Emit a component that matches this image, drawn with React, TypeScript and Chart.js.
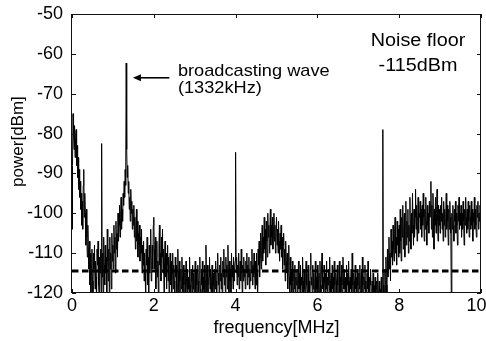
import React, { useEffect, useRef } from 'react';
import { Chart, registerables } from 'chart.js';

Chart.register(...registerables);

// ---- data -------------------------------------------------------------
const FREQ_STEP_MHZ = 0.0125; // spectrum analyser sample spacing

// power [dBm], one value per FREQ_STEP_MHZ from 0 to 10 MHz (801 samples, 40 per 0.5 MHz)
const POWER_DBM: number[] = [
  // 0.0 - 0.5
  -104, -88, -75, -80, -84, -78, -86, -81, -79, -88,
  -83, -91, -86, -94, -89, -96, -92, -99, -95, -103,
  -97, -104, -93, -89, -101, -95, -100, -108, -99, -106,
  -111, -103, -109, -114, -107, -118, -110, -121, -113, -109,
  // 0.5 - 1.0
  -117, -121, -110, -114, -108, -119, -112, -116, -122, -109,
  -113, -107, -118, -121, -111, -115, -109, -120, -82.5, -116,
  -110, -121, -106, -113, -118, -108, -115, -111, -121, -104,
  -112, -117, -109, -121, -106, -114, -110, -119, -105, -112,
  // 1.0 - 1.5
  -108, -114, -103, -110, -106, -115, -102, -109, -105, -111,
  -100, -107, -103, -98, -106, -101, -96, -104, -99, -102,
  -95, -98, -92, -96, -89, -93, -62.3, -84, -91, -88,
  -95, -92, -99, -96, -102, -94, -100, -97, -104, -99,
  // 1.5 - 2.0
  -103, -98, -106, -101, -109, -104, -99, -107, -102, -111,
  -105, -108, -103, -112, -106, -110, -104, -115, -108, -113,
  -107, -117, -110, -114, -121, -109, -113, -106, -118, -111,
  -121, -108, -115, -110, -104, -117, -112, -108, -114, -103,
  // 2.0 - 2.5
  -101, -109, -114, -106, -119, -111, -107, -116, -112, -121,
  -108, -103, -113, -110, -117, -106, -111, -104, -115, -109,
  -121, -112, -107, -116, -110, -119, -113, -108, -117, -111,
  -121, -114, -110, -118, -112, -122, -115, -110, -119, -113,
  // 2.5 - 3.0
  -117, -121, -111, -116, -113, -122, -118, -109, -115, -121,
  -112, -117, -122, -114, -119, -111, -116, -121, -113, -118,
  -122, -115, -120, -112, -117, -122, -114, -119, -116, -121,
  -111, -118, -122, -114, -117, -121, -113, -119, -115, -122,
  // 3.0 - 3.5
  -116, -112, -120, -114, -118, -122, -113, -117, -121, -115,
  -111, -119, -122, -114, -118, -112, -121, -116, -119, -113,
  -122, -117, -108, -115, -120, -113, -118, -122, -116, -111,
  -119, -114, -121, -117, -113, -120, -115, -118, -122, -114,
  // 3.5 - 4.0
  -119, -112, -117, -121, -114, -110, -118, -115, -121, -113,
  -117, -111, -119, -115, -122, -112, -116, -109, -118, -114,
  -120, -111, -116, -113, -119, -108, -115, -121, -112, -117,
  -114, -120, -110, -116, -113, -119, -111, -117, -114, -112,
  // 4.0 - 4.5
  -84.7, -115, -111, -118, -113, -116, -110, -119, -114, -112,
  -117, -109, -115, -120, -113, -117, -111, -116, -114, -119,
  -112, -115, -110, -118, -113, -116, -111, -119, -114, -117,
  -112, -115, -109, -118, -113, -116, -110, -114, -119, -112,
  // 4.5 - 5.0
  -118, -110, -115, -121, -109, -113, -107, -116, -111, -105,
  -114, -108, -103, -112, -106, -110, -101, -109, -104, -113,
  -102, -107, -111, -100, -106, -103, -110, -104, -99, -108,
  -103, -106, -101, -109, -104, -100, -107, -103, -110, -105,
  // 5.0 - 5.5
  -101, -108, -104, -110, -102, -107, -112, -105, -109, -103,
  -111, -106, -114, -108, -105, -113, -109, -117, -107, -112,
  -115, -110, -119, -113, -108, -116, -121, -111, -118, -114,
  -122, -112, -117, -120, -114, -119, -113, -121, -116, -118,
  // 5.5 - 6.0
  -114, -121, -117, -112, -119, -115, -122, -113, -118, -116,
  -121, -111, -117, -120, -114, -119, -122, -115, -112, -118,
  -121, -116, -113, -120, -117, -122, -114, -110, -118, -116,
  -121, -113, -119, -115, -122, -117, -112, -120, -116, -119,
  // 6.0 - 6.5
  -113, -121, -117, -115, -122, -112, -118, -120, -114, -110,
  -119, -116, -122, -113, -117, -121, -115, -119, -112, -122,
  -116, -118, -114, -121, -111, -117, -120, -115, -122, -113,
  -119, -116, -121, -112, -118, -122, -115, -117, -120, -113,
  // 6.5 - 7.0
  -118, -122, -115, -112, -120, -116, -121, -113, -118, -122,
  -111, -117, -119, -114, -121, -116, -122, -113, -118, -115,
  -120, -112, -117, -122, -116, -119, -114, -121, -110, -118,
  -122, -115, -117, -121, -113, -119, -116, -122, -114, -118,
  // 7.0 - 7.5
  -121, -115, -119, -113, -122, -117, -114, -120, -111, -118,
  -122, -116, -119, -113, -121, -117, -123, -115, -119, -112,
  -120, -122, -116, -118, -114, -121, -123, -117, -120, -115,
  -122, -118, -121, -116, -123, -119, -117, -122, -115, -120,
  // 7.5 - 8.0
  -122, -117, -123, -119, -121, -116, -123, -120, -79, -122,
  -118, -123, -114, -120, -111, -118, -121, -109, -116, -112,
  -106, -114, -110, -117, -104, -111, -107, -113, -103, -109,
  -112, -105, -101, -110, -106, -113, -102, -108, -104, -111,
  // 8.0 - 8.5
  -103, -110, -99, -107, -112, -101, -106, -98, -109, -104,
  -100, -111, -105, -97, -108, -102, -106, -99, -110, -103,
  -107, -96, -104, -109, -100, -105, -95, -103, -108, -99,
  -106, -101, -94, -104, -98, -107, -102, -96, -105, -100,
  // 8.5 - 9.0
  -101, -97, -104, -99, -106, -98, -103, -95, -101, -107,
  -99, -104, -96, -102, -108, -98, -103, -100, -105, -97,
  -101, -99, -92, -104, -98, -106, -95, -101, -109, -99,
  -103, -96, -105, -100, -94, -102, -107, -98, -103, -99,
  // 9.0 - 9.5
  -105, -98, -102, -96, -104, -100, -107, -97, -103, -99,
  -106, -101, -95, -104, -98, -102, -108, -99, -104, -97,
  -101, -105, -123, -100, -104, -98, -103, -107, -99, -102,
  -97, -105, -100, -103, -108, -98, -102, -96, -104, -100,
  // 9.5 - 10.0
  -103, -98, -106, -100, -104, -97, -102, -108, -99, -103,
  -96, -101, -105, -99, -104, -97, -102, -106, -98, -101,
  -104, -97, -103, -99, -107, -100, -102, -96, -104, -99,
  -103, -106, -98, -101, -97, -104, -100, -102, -98, -103,
  // 10.0
  -101,
];

const NOISE_FLOOR_DBM = -114.5;
const X_RANGE = [0, 10];
const Y_RANGE = [-120, -50];
const X_TICKS = [0, 2, 4, 6, 8, 10];
const Y_TICKS = [-120, -110, -100, -90, -80, -70, -60, -50];
const X_TITLE = 'frequency[MHz]';
const Y_TITLE = 'power[dBm]';
const BROADCAST_LABEL = ['broadcasting wave', '(1332kHz)'];
const NOISE_LABEL = ['Noise floor', '-115dBm'];

// ---- styling / layout -------------------------------------------------
const FONT_FAMILY = '"Liberation Sans", Arial, Helvetica, sans-serif';
const W = 486;
const H = 341;

const framePlugin = {
  id: 'frameAndNotes',
  afterDatasetsDraw(chart: any) {
    const { ctx, chartArea: a, scales } = chart;
    const x = scales.x;
    const y = scales.y;
    ctx.save();

    // box
    ctx.strokeStyle = '#111';
    ctx.lineWidth = 1;
    ctx.strokeRect(Math.round(a.left) - 0.5, Math.round(a.top) + 0.5, Math.round(a.right - a.left), Math.round(a.bottom - a.top) - 1);

    // inward ticks on all four sides
    const TL = 4;
    ctx.beginPath();
    X_TICKS.forEach((v) => {
      const px = Math.round(x.getPixelForValue(v)) + 0.5;
      ctx.moveTo(px, a.top);
      ctx.lineTo(px, a.top + TL);
      ctx.moveTo(px, a.bottom);
      ctx.lineTo(px, a.bottom - TL);
    });
    Y_TICKS.forEach((v) => {
      const py = Math.round(y.getPixelForValue(v)) + 0.5;
      ctx.moveTo(a.left, py);
      ctx.lineTo(a.left + TL, py);
      ctx.moveTo(a.right, py);
      ctx.lineTo(a.right - TL, py);
    });
    ctx.stroke();

    ctx.fillStyle = '#000';
    ctx.textBaseline = 'alphabetic';

    const drawStretched = (text: string, px: number, py: number, sx: number, align: string) => {
      ctx.save();
      ctx.translate(px, py);
      ctx.scale(sx, 1);
      ctx.textAlign = align;
      ctx.fillText(text, 0, 0);
      ctx.restore();
    };

    // broadcasting wave annotation
    ctx.font = `17px ${FONT_FAMILY}`;
    const bx = x.getPixelForValue(2.59);
    drawStretched(BROADCAST_LABEL[0], bx, y.getPixelForValue(-65.5), 1.07, 'left');
    drawStretched(BROADCAST_LABEL[1], bx, y.getPixelForValue(-69.8), 1.07, 'left');

    // arrow pointing to the 1332 kHz carrier
    const ay = y.getPixelForValue(-66.0);
    const ax0 = x.getPixelForValue(2.38);
    const ax1 = x.getPixelForValue(1.49);
    ctx.strokeStyle = '#000';
    ctx.lineWidth = 1.6;
    ctx.beginPath();
    ctx.moveTo(ax0, ay);
    ctx.lineTo(ax1 + 6, ay);
    ctx.stroke();
    ctx.beginPath();
    ctx.moveTo(ax1, ay);
    ctx.lineTo(ax1 + 8, ay - 3.5);
    ctx.lineTo(ax1 + 8, ay + 3.5);
    ctx.closePath();
    ctx.fill();

    // noise floor annotation
    ctx.font = `18px ${FONT_FAMILY}`;
    const nx = x.getPixelForValue(8.46);
    drawStretched(NOISE_LABEL[0], nx, y.getPixelForValue(-58.1), 1.1, 'center');
    drawStretched(NOISE_LABEL[1], nx, y.getPixelForValue(-64.4), 1.1, 'center');

    // y axis title
    ctx.font = `17px ${FONT_FAMILY}`;
    ctx.save();
    ctx.translate(18.5, y.getPixelForValue(-82));
    ctx.rotate(-Math.PI / 2);
    ctx.textAlign = 'center';
    ctx.textBaseline = 'middle';
    ctx.fillText(Y_TITLE, 0, 0);
    ctx.restore();

    ctx.restore();
  },
};

export default function App() {
  const canvasRef = useRef<HTMLCanvasElement | null>(null);

  useEffect(() => {
    const canvas = canvasRef.current;
    if (!canvas) return;

    const spectrum = POWER_DBM.map((p, i) => ({ x: i * FREQ_STEP_MHZ, y: p }));
    const floor = X_RANGE.map((f) => ({ x: f, y: NOISE_FLOOR_DBM }));

    const chart = new Chart(canvas, {
      type: 'line',
      data: {
        datasets: [
          {
            label: 'noise floor',
            data: floor,
            borderColor: '#000',
            borderWidth: 3,
            borderDash: [6.5, 3.5],
            pointRadius: 0,
            fill: false,
          },
          {
            label: 'spectrum',
            data: spectrum,
            borderColor: '#000',
            borderWidth: 1,
            pointRadius: 0,
            tension: 0,
            fill: false,
          },
        ],
      },
      options: {
        responsive: false,
        animation: false,
        devicePixelRatio: 1,
        layout: { padding: { top: 14, right: 5, left: 0, bottom: 0 } },
        plugins: {
          legend: { display: false },
          tooltip: { enabled: false },
        },
        scales: {
          x: {
            type: 'linear',
            min: X_RANGE[0],
            max: X_RANGE[1],
            grid: { display: false, drawTicks: false },
            border: { display: false },
            afterBuildTicks: (scale: any) => {
              scale.ticks = X_TICKS.map((v) => ({ value: v }));
            },
            afterFit: (scale: any) => {
              scale.height = 48;
              scale.paddingLeft = 0;
              scale.paddingRight = 0;
            },
            ticks: {
              color: '#000',
              font: { family: FONT_FAMILY, size: 18 },
              padding: 2,
              maxRotation: 0,
              autoSkip: false,
              callback: (v: any) => (v === 10 ? '10\u2002' : String(v)),
            },
            title: {
              display: true,
              text: X_TITLE,
              color: '#000',
              font: { family: FONT_FAMILY, size: 18 },
              padding: { top: 0, bottom: 2 },
            },
          },
          y: {
            type: 'linear',
            min: Y_RANGE[0],
            max: Y_RANGE[1],
            grid: { display: false, drawTicks: false },
            border: { display: false },
            afterBuildTicks: (scale: any) => {
              scale.ticks = Y_TICKS.map((v) => ({ value: v }));
            },
            afterFit: (scale: any) => {
              scale.width = 72;
              scale.paddingTop = 0;
              scale.paddingBottom = 0;
            },
            ticks: {
              color: '#000',
              font: { family: FONT_FAMILY, size: 18 },
              padding: 9,
              autoSkip: false,
            },
          },
        },
      },
      plugins: [framePlugin],
    } as any);

    return () => chart.destroy();
  }, []);

  return (
    <div style={{ position: 'fixed', left: 0, top: 0, width: W, height: H, background: '#fff' }}>
      <canvas ref={canvasRef} width={W} height={H} style={{ display: 'block', width: W, height: H }} />
    </div>
  );
}
